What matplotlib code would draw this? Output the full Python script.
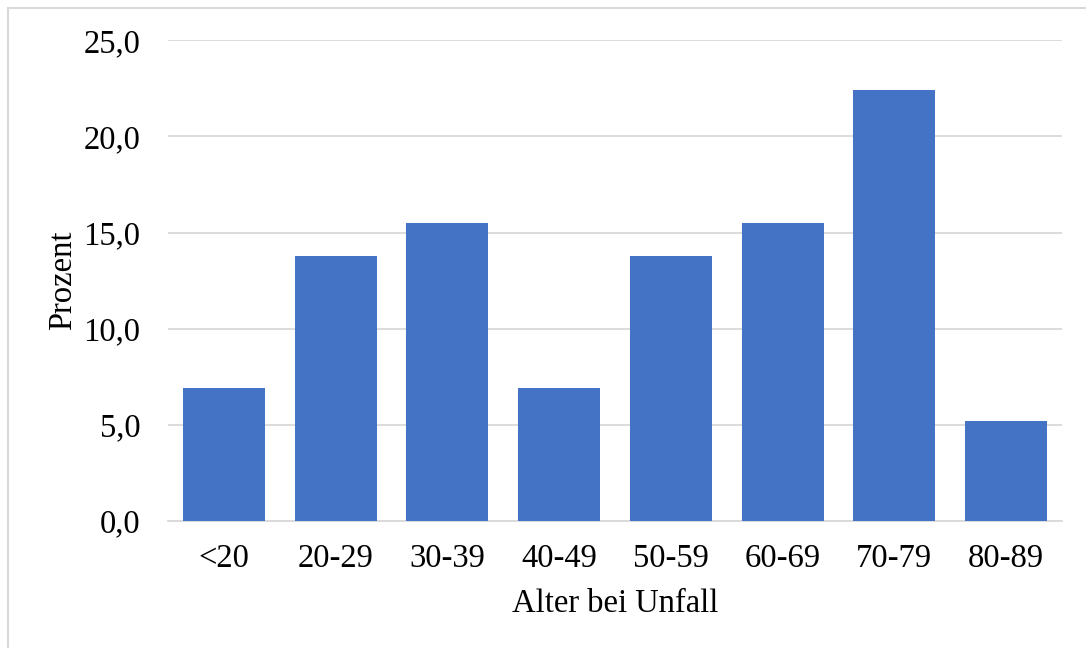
import matplotlib.pyplot as plt
from matplotlib.patches import Rectangle
from matplotlib.ticker import FuncFormatter

plt.rcParams['font.family'] = ['Liberation Serif', 'DejaVu Serif']

# share of cases per age group (percent)
age_groups = ['<20', '20-29', '30-39', '40-49', '50-59', '60-69', '70-79', '80-89']
percent = [6.9, 13.8, 15.5, 6.9, 13.8, 15.5, 22.4, 5.2]

fig = plt.figure(figsize=(10.86, 6.48), dpi=100)
ax = fig.add_axes([0.1547, 0.196, 0.8232, 0.742])

ax.bar(age_groups, percent, width=0.735, color='#4472C4', zorder=3)

ax.set_ylim(0, 25)
ax.set_xlim(-0.5, len(age_groups) - 0.5)
ax.set_yticks([0, 5, 10, 15, 20, 25])
ax.yaxis.set_major_formatter(FuncFormatter(lambda v, p: f'{v:.1f}'.replace('.', ',')))
ax.grid(axis='y', color='#D9D9D9', linewidth=1.3, zorder=0)
for s in ['top', 'right', 'left']:
    ax.spines[s].set_visible(False)
ax.spines['bottom'].set_color('#D9D9D9')
ax.spines['bottom'].set_linewidth(1.3)
ax.tick_params(length=0, labelsize=23.5, colors='black')
ax.tick_params(axis='y', pad=20)
ax.tick_params(axis='x', pad=16)

ax.set_xlabel('Alter bei Unfall', fontsize=23.5, labelpad=11)
ax.set_ylabel('Prozent', fontsize=23.5, labelpad=4)

# light frame around the chart (right and bottom edges fall outside the image)
fig.patches.append(Rectangle((7.5 / 1086, -10 / 648), 1090 / 1086, 650.5 / 648,
                             transform=fig.transFigure, fill=False,
                             edgecolor='#D9D9D9', linewidth=1.5))

fig.savefig('out.png', dpi=100)
